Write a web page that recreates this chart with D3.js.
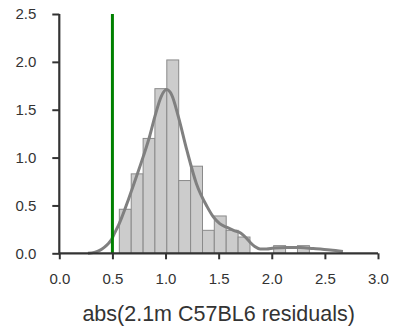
<!DOCTYPE html>
<html>
<head>
<meta charset="utf-8">
<script src="https://cdn.jsdelivr.net/npm/d3@7"></script>
<style>
  body { margin: 0; background: #fff; }
  svg { display: block; font-family: "Liberation Sans", Arial, sans-serif; }
</style>
</head>
<body>
<svg width="393" height="331"></svg>
<script>
// histogram bins (edges) and density per bin
const binEdges = [0.565, 0.677, 0.789, 0.900, 1.012, 1.124, 1.236, 1.348, 1.459,
  1.571, 1.683, 1.795, 1.907, 2.018, 2.130, 2.242, 2.354];
const binDensity = [0.46, 0.83, 1.20, 1.72, 2.02, 0.76, 0.91, 0.24, 0.39,
  0.24, 0.17, 0, 0, 0.08, 0, 0.08];

// kde curve
const kdeX = [0.27, 0.33, 0.38, 0.42, 0.46, 0.49, 0.52, 0.56, 0.59, 0.65, 0.71, 0.79,
  0.85, 0.90, 0.96, 1.01, 1.06, 1.12, 1.20, 1.29, 1.39, 1.45, 1.51, 1.58, 1.64,
  1.71, 1.76, 1.80, 1.84, 1.89, 1.95, 2.02, 2.14, 2.27, 2.39, 2.55, 2.67];
const kdeY = [0.0, 0.01, 0.03, 0.06, 0.10, 0.14, 0.21, 0.30, 0.38, 0.56, 0.75, 1.01,
  1.22, 1.43, 1.64, 1.71, 1.65, 1.43, 1.08, 0.73, 0.49, 0.38, 0.31, 0.27, 0.24,
  0.21, 0.16, 0.11, 0.07, 0.045, 0.045, 0.055, 0.06, 0.06, 0.05, 0.035, 0.02];

const cutoff = 0.5;
const xTicks = [0, 0.5, 1, 1.5, 2, 2.5, 3];
const yTicks = [0, 0.5, 1, 1.5, 2, 2.5];
const xLabel = 'abs(2.1m C57BL6 residuals)';

const svg = d3.select('svg');
const x = d3.scaleLinear().domain([0, 3]).range([59.3, 378]);
const y = d3.scaleLinear().domain([0, 2.5]).range([253.3, 14]);
const axisColor = '#333';

// bars
const bins = binDensity.map((d, i) => ({ x0: binEdges[i], x1: binEdges[i + 1], v: d }));
svg.append('g')
  .selectAll('rect')
  .data(bins.filter(d => d.v > 0))
  .join('rect')
  .attr('x', d => x(d.x0))
  .attr('y', d => y(d.v))
  .attr('width', d => x(d.x1) - x(d.x0))
  .attr('height', d => y(0) - y(d.v))
  .attr('fill', '#cccccc')
  .attr('stroke', '#8a8a8a')
  .attr('stroke-width', 1);

// kde line
const pts = kdeX.map((v, i) => [v, kdeY[i]]);
const line = d3.line()
  .x(d => x(d[0]))
  .y(d => y(d[1]))
  .curve(d3.curveMonotoneX);
svg.append('path')
  .attr('d', line(pts))
  .attr('fill', 'none')
  .attr('stroke', '#808080')
  .attr('stroke-width', 3);

// cutoff line
svg.append('line')
  .attr('x1', x(cutoff)).attr('x2', x(cutoff))
  .attr('y1', y(2.5)).attr('y2', y(0))
  .attr('stroke', 'green')
  .attr('stroke-width', 3);

// axes
const xAxis = svg.append('g')
  .attr('transform', `translate(0,${y(0)})`)
  .call(d3.axisBottom(x).tickValues(xTicks).tickFormat(d3.format('.1f')).tickSize(6).tickPadding(14));
const yAxis = svg.append('g')
  .attr('transform', `translate(${x(0)},0)`)
  .call(d3.axisLeft(y).tickValues(yTicks).tickFormat(d3.format('.1f')).tickSize(7).tickPadding(16));

[xAxis, yAxis].forEach(g => {
  g.select('.domain').attr('stroke', axisColor).attr('stroke-width', 2.2);
  g.selectAll('.tick line').attr('stroke', axisColor).attr('stroke-width', 2);
  g.selectAll('.tick text')
    .attr('fill', axisColor)
    .style('font-size', '15px')
    .style('font-family', '"Liberation Sans", Arial, sans-serif');
});
xAxis.select('.domain').attr('d', `M${x(0)},0H${x(3)}`);
yAxis.select('.domain').attr('d', `M0,${y(2.5)}V${y(0)}`);

svg.append('text')
  .attr('x', (x(0) + x(3)) / 2)
  .attr('y', 321)
  .attr('text-anchor', 'middle')
  .attr('fill', axisColor)
  .style('font-size', '21.5px')
  .text(xLabel);
</script>
</body>
</html>
